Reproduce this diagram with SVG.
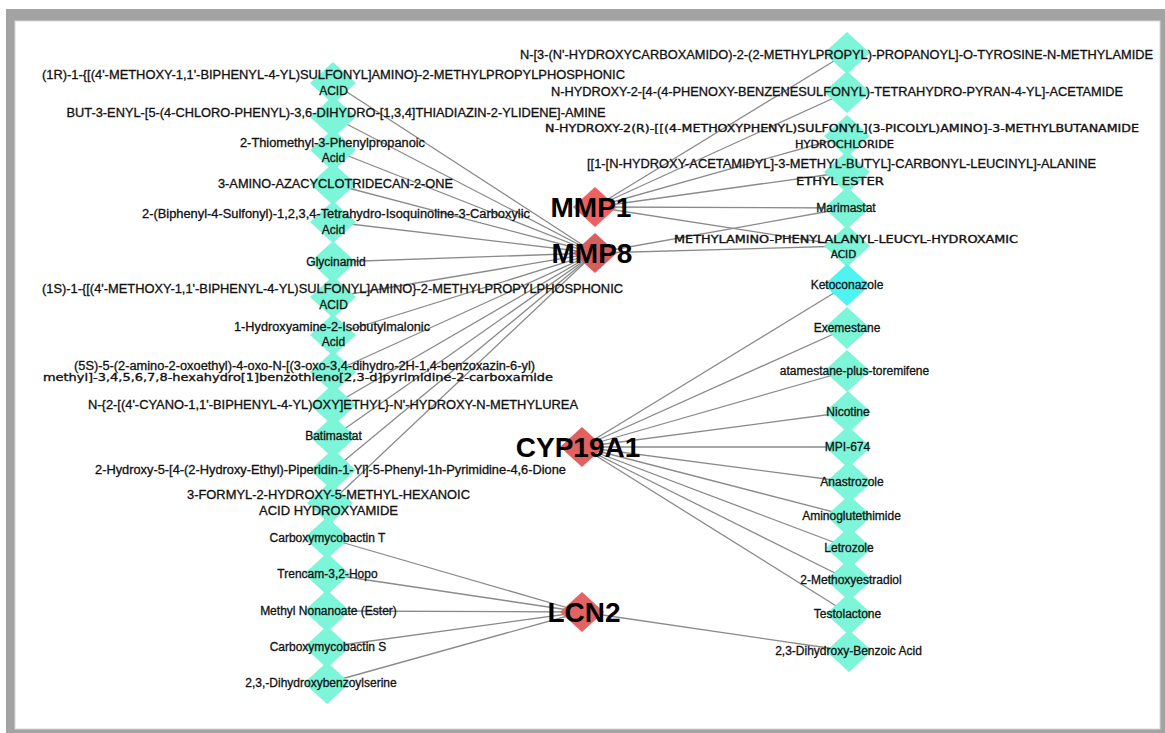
<svg xmlns="http://www.w3.org/2000/svg" xmlns:xlink="http://www.w3.org/1999/xlink" width="1165" height="733" viewBox="0 0 1165 733">
<style>
.t{font-family:"Liberation Sans",Arial,sans-serif;font-size:12px;text-anchor:middle;fill:#111;stroke:#111;stroke-width:0.3}
.dv{font-family:"DejaVu Sans",sans-serif;font-size:10.5px;text-anchor:middle;fill:#111;stroke:#111;stroke-width:0.35}
.hub{font-family:"Liberation Sans",Arial,sans-serif;font-weight:bold;font-size:28px;text-anchor:middle;fill:#000}
.e{stroke:#8a8a8a;stroke-width:1.3;fill:none}
.leaf{fill:#7df5d8}
.keto{fill:#4ff3f2}
</style>
<defs>
<path id="dl" d="M0,-21L23,0L0,21L-23,0Z"/>
<path id="dh" d="M0,-20L22,0L0,20L-22,0Z"/>
</defs>
<rect x="0" y="0" width="1165" height="733" fill="#ffffff"/>
<rect x="6" y="9" width="1159" height="724" fill="#a3a3a3"/>
<rect x="15" y="21" width="1145" height="708" fill="#ffffff" stroke="#d8d8d8" stroke-width="1"/>
<g id="edges" class="e">
<line x1="595" y1="207" x2="847" y2="53"/>
<line x1="595" y1="207" x2="847" y2="92"/>
<line x1="595" y1="207" x2="847" y2="136"/>
<line x1="595" y1="207" x2="847" y2="172"/>
<line x1="595" y1="207" x2="847" y2="208"/>
<line x1="595" y1="207" x2="847" y2="246"/>
<line x1="595" y1="253" x2="847" y2="208"/>
<line x1="595" y1="253" x2="847" y2="246"/>
<line x1="595" y1="253" x2="333" y2="83"/>
<line x1="595" y1="253" x2="333" y2="117"/>
<line x1="595" y1="253" x2="333" y2="150"/>
<line x1="595" y1="253" x2="333" y2="184"/>
<line x1="595" y1="253" x2="333" y2="222"/>
<line x1="595" y1="253" x2="333" y2="262"/>
<line x1="595" y1="253" x2="333" y2="297"/>
<line x1="595" y1="253" x2="333" y2="335"/>
<line x1="595" y1="253" x2="333" y2="372"/>
<line x1="595" y1="253" x2="333" y2="405"/>
<line x1="595" y1="253" x2="333" y2="437"/>
<line x1="595" y1="253" x2="333" y2="470"/>
<line x1="595" y1="253" x2="330" y2="503"/>
<line x1="582" y1="447" x2="847" y2="285"/>
<line x1="582" y1="447" x2="847" y2="328"/>
<line x1="582" y1="447" x2="847" y2="371"/>
<line x1="582" y1="447" x2="848" y2="412"/>
<line x1="582" y1="447" x2="848" y2="447"/>
<line x1="582" y1="447" x2="849" y2="482"/>
<line x1="582" y1="447" x2="849" y2="516"/>
<line x1="582" y1="447" x2="849" y2="548"/>
<line x1="582" y1="447" x2="849" y2="580"/>
<line x1="582" y1="447" x2="849" y2="614"/>
<line x1="582" y1="612" x2="327" y2="538"/>
<line x1="582" y1="612" x2="327" y2="574"/>
<line x1="582" y1="612" x2="327" y2="611"/>
<line x1="582" y1="612" x2="327" y2="647"/>
<line x1="582" y1="612" x2="327" y2="683"/>
<line x1="582" y1="612" x2="849" y2="651"/>
</g>
<g id="n-l1"><use href="#dl" x="333" y="83" class="leaf"/><text class="t" x="333.5" y="79" textLength="583" lengthAdjust="spacingAndGlyphs">(1R)-1-{[(4'-METHOXY-1,1'-BIPHENYL-4-YL)SULFONYL]AMINO}-2-METHYLPROPYLPHOSPHONIC</text><text class="t" x="333.5" y="95">ACID</text></g>
<g id="n-l2"><use href="#dl" x="333" y="117" class="leaf"/><text class="t" x="336" y="117" textLength="539" lengthAdjust="spacingAndGlyphs">BUT-3-ENYL-[5-(4-CHLORO-PHENYL)-3,6-DIHYDRO-[1,3,4]THIADIAZIN-2-YLIDENE]-AMINE</text></g>
<g id="n-l3"><use href="#dl" x="333" y="150" class="leaf"/><text class="t" x="332.5" y="147" textLength="185" lengthAdjust="spacingAndGlyphs">2-Thiomethyl-3-Phenylpropanoic</text><text class="t" x="333.5" y="162">Acid</text></g>
<g id="n-l4"><use href="#dl" x="333" y="184" class="leaf"/><text class="t" x="335.5" y="188" textLength="235" lengthAdjust="spacingAndGlyphs">3-AMINO-AZACYCLOTRIDECAN-2-ONE</text></g>
<g id="n-l5"><use href="#dl" x="333" y="222" class="leaf"/><text class="t" x="336" y="218" textLength="388" lengthAdjust="spacingAndGlyphs">2-(Biphenyl-4-Sulfonyl)-1,2,3,4-Tetrahydro-Isoquinoline-3-Carboxylic</text><text class="t" x="333.5" y="234">Acid</text></g>
<g id="n-l6"><use href="#dl" x="333" y="262" class="leaf"/><text class="t" x="336" y="266">Glycinamid</text></g>
<g id="n-l7"><use href="#dl" x="333" y="297" class="leaf"/><text class="t" x="332.5" y="293" textLength="581" lengthAdjust="spacingAndGlyphs">(1S)-1-{[(4'-METHOXY-1,1'-BIPHENYL-4-YL)SULFONYL]AMINO}-2-METHYLPROPYLPHOSPHONIC</text><text class="t" x="333.5" y="309">ACID</text></g>
<g id="n-l8"><use href="#dl" x="333" y="335" class="leaf"/><text class="t" x="332" y="331" textLength="196" lengthAdjust="spacingAndGlyphs">1-Hydroxyamine-2-Isobutylmalonic</text><text class="t" x="333.5" y="346">Acid</text></g>
<g id="n-l9"><use href="#dl" x="333" y="372" class="leaf"/><text class="t" x="304.5" y="370" textLength="461" lengthAdjust="spacingAndGlyphs">(5S)-5-(2-amino-2-oxoethyl)-4-oxo-N-[(3-oxo-3,4-dihydro-2H-1,4-benzoxazin-6-yl)</text><text class="dv" x="298" y="381" textLength="510" lengthAdjust="spacingAndGlyphs">methyl]-3,4,5,6,7,8-hexahydro[1]benzothieno[2,3-d]pyrimidine-2-carboxamide</text></g>
<g id="n-l10"><use href="#dl" x="333" y="405" class="leaf"/><text class="t" x="333" y="409" textLength="490" lengthAdjust="spacingAndGlyphs">N-{2-[(4'-CYANO-1,1'-BIPHENYL-4-YL)OXY]ETHYL}-N'-HYDROXY-N-METHYLUREA</text></g>
<g id="n-l11"><use href="#dl" x="333" y="437" class="leaf"/><text class="t" x="333.5" y="440">Batimastat</text></g>
<g id="n-l12"><use href="#dl" x="333" y="470" class="leaf"/><text class="t" x="330.5" y="474" textLength="471" lengthAdjust="spacingAndGlyphs">2-Hydroxy-5-[4-(2-Hydroxy-Ethyl)-Piperidin-1-Yl]-5-Phenyl-1h-Pyrimidine-4,6-Dione</text></g>
<g id="n-l13"><use href="#dl" x="330" y="503" class="leaf"/><text class="t" x="328.5" y="499" textLength="283" lengthAdjust="spacingAndGlyphs">3-FORMYL-2-HYDROXY-5-METHYL-HEXANOIC</text><text class="t" x="328.5" y="515" textLength="139" lengthAdjust="spacingAndGlyphs">ACID HYDROXYAMIDE</text></g>
<g id="n-l14"><use href="#dl" x="327" y="538" class="leaf"/><text class="t" x="327.5" y="542">Carboxymycobactin T</text></g>
<g id="n-l15"><use href="#dl" x="327" y="574" class="leaf"/><text class="t" x="327.5" y="578">Trencam-3,2-Hopo</text></g>
<g id="n-l16"><use href="#dl" x="327" y="611" class="leaf"/><text class="t" x="328.5" y="615">Methyl Nonanoate (Ester)</text></g>
<g id="n-l17"><use href="#dl" x="327" y="647" class="leaf"/><text class="t" x="328" y="651">Carboxymycobactin S</text></g>
<g id="n-l18"><use href="#dl" x="327" y="683" class="leaf"/><text class="t" x="321" y="687">2,3,-Dihydroxybenzoylserine</text></g>
<g id="n-r1"><use href="#dl" x="847" y="53" class="leaf"/><text class="t" x="836.5" y="59" textLength="633" lengthAdjust="spacingAndGlyphs">N-[3-(N'-HYDROXYCARBOXAMIDO)-2-(2-METHYLPROPYL)-PROPANOYL]-O-TYROSINE-N-METHYLAMIDE</text></g>
<g id="n-r2"><use href="#dl" x="847" y="92" class="leaf"/><text class="t" x="837" y="96" textLength="572" lengthAdjust="spacingAndGlyphs">N-HYDROXY-2-[4-(4-PHENOXY-BENZENESULFONYL)-TETRAHYDRO-PYRAN-4-YL]-ACETAMIDE</text></g>
<g id="n-r3"><use href="#dl" x="847" y="136" class="leaf"/><text class="dv" x="842" y="132" textLength="594" lengthAdjust="spacingAndGlyphs">N-HYDROXY-2(R)-[[(4-METHOXYPHENYL)SULFONYL](3-PICOLYL)AMINO]-3-METHYLBUTANAMIDE</text><text class="dv" x="844.5" y="148" textLength="99" lengthAdjust="spacingAndGlyphs">HYDROCHLORIDE</text></g>
<g id="n-r4"><use href="#dl" x="847" y="172" class="leaf"/><text class="t" x="841.5" y="168" textLength="509" lengthAdjust="spacingAndGlyphs">[[1-[N-HYDROXY-ACETAMIDYL]-3-METHYL-BUTYL]-CARBONYL-LEUCINYL]-ALANINE</text><text class="dv" x="840" y="185" textLength="88" lengthAdjust="spacingAndGlyphs">ETHYL ESTER</text></g>
<g id="n-r5"><use href="#dl" x="847" y="208" class="leaf"/><text class="t" x="846" y="212">Marimastat</text></g>
<g id="n-r6"><use href="#dl" x="847" y="246" class="leaf"/><text class="dv" x="846" y="243" textLength="344" lengthAdjust="spacingAndGlyphs">METHYLAMINO-PHENYLALANYL-LEUCYL-HYDROXAMIC</text><text class="dv" x="843.5" y="258">ACID</text></g>
<g id="n-r7"><use href="#dl" x="847" y="285" class="keto"/><text class="t" x="847" y="289">Ketoconazole</text></g>
<g id="n-r8"><use href="#dl" x="847" y="328" class="leaf"/><text class="t" x="847" y="332">Exemestane</text></g>
<g id="n-r9"><use href="#dl" x="847" y="371" class="leaf"/><text class="t" x="854.5" y="375">atamestane-plus-toremifene</text></g>
<g id="n-r10"><use href="#dl" x="848" y="412" class="leaf"/><text class="t" x="848" y="416">Nicotine</text></g>
<g id="n-r11"><use href="#dl" x="848" y="447" class="leaf"/><text class="t" x="847.5" y="451">MPI-674</text></g>
<g id="n-r12"><use href="#dl" x="849" y="482" class="leaf"/><text class="t" x="852" y="486">Anastrozole</text></g>
<g id="n-r13"><use href="#dl" x="849" y="516" class="leaf"/><text class="t" x="851.5" y="520">Aminoglutethimide</text></g>
<g id="n-r14"><use href="#dl" x="849" y="548" class="leaf"/><text class="t" x="849" y="552">Letrozole</text></g>
<g id="n-r15"><use href="#dl" x="849" y="580" class="leaf"/><text class="t" x="851" y="584">2-Methoxyestradiol</text></g>
<g id="n-r16"><use href="#dl" x="849" y="614" class="leaf"/><text class="t" x="847.5" y="618">Testolactone</text></g>
<g id="n-r17"><use href="#dl" x="849" y="651" class="leaf"/><text class="t" x="848.5" y="655">2,3-Dihydroxy-Benzoic Acid</text></g>
<g id="n-mmp1"><use href="#dh" x="595" y="207" fill="#f06060"/><text class="hub" x="591" y="217">MMP1</text></g>
<g id="n-mmp8"><use href="#dh" x="595" y="253" fill="#d85e5e"/><text class="hub" x="592" y="263">MMP8</text></g>
<g id="n-cyp19a1"><use href="#dh" x="582" y="447" fill="#e26060"/><text class="hub" x="578" y="457">CYP19A1</text></g>
<g id="n-lcn2"><use href="#dh" x="582" y="612" fill="#e36262"/><text class="hub" x="584" y="622">LCN2</text></g>
</svg>
